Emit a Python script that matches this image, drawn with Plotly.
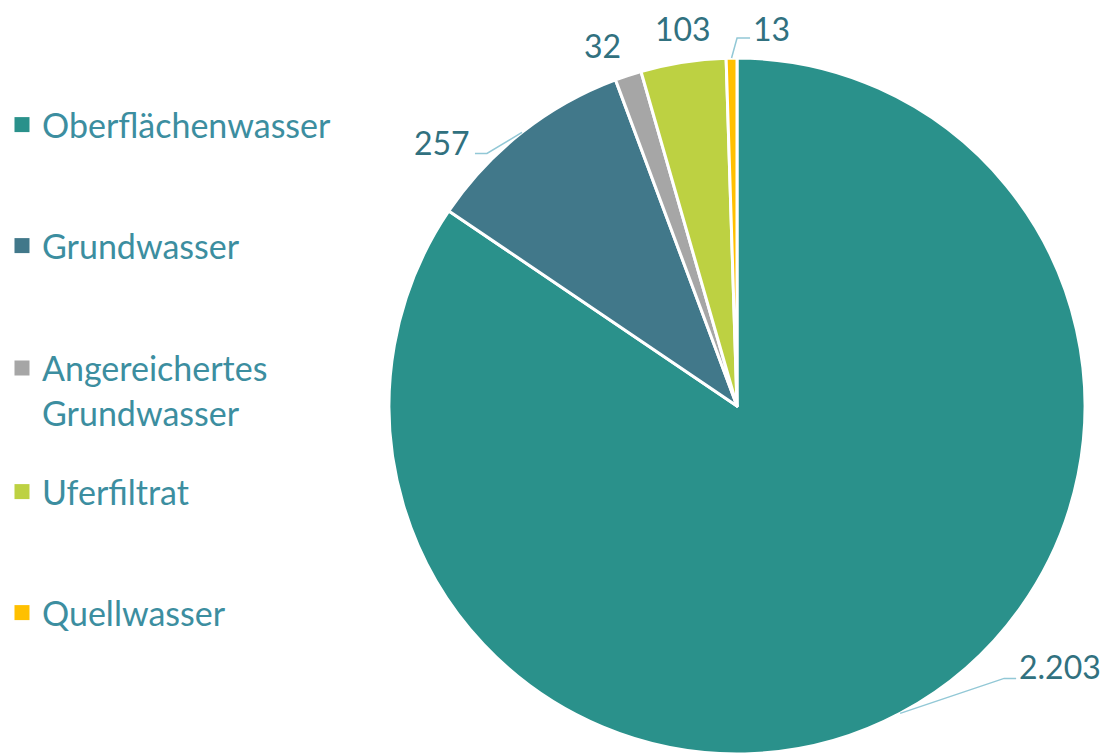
import math
import plotly.graph_objects as go

categories = ["Oberflächenwasser", "Grundwasser", "Angereichertes Grundwasser", "Uferfiltrat", "Quellwasser"]
legend_labels = ["Oberflächenwasser", "Grundwasser", "Angereichertes<br>Grundwasser", "Uferfiltrat", "Quellwasser"]
values = [2203, 257, 32, 103, 13]
value_texts = ["2.203", "257", "32", "103", "13"]
colors = ["#2A918B", "#41788A", "#A6A6A6", "#BDD142", "#FFC000"]

W, H = 1107, 754
FONT = "Lato"
LEGEND_COLOR = "#3C8EA0"
LABEL_COLOR = "#31717F"
LEADER_COLOR = "#92C8D6"

# pie geometry (pixels)
CX, CY, R = 737, 406, 348

# label placement relative to the slice's outer mid point (style only)
label_offsets = [(160, -47), (-80, 10), (-26, -30), (0, -34), (40, -30)]
leader_paths = [
    [(104, -35), (116, -35)],
    [(-35, 21), (-47, 21)],
    None,
    None,
    [(5.5, -20), (18.5, -20)],
]

fig = go.Figure()
fig.add_trace(go.Pie(
    labels=categories,
    values=values,
    sort=False,
    direction="clockwise",
    rotation=0,
    marker=dict(colors=colors, line=dict(color="white", width=3)),
    textinfo="none",
    showlegend=False,
    hoverinfo="label+value",
    domain=dict(x=[(CX - R) / W, (CX + R) / W], y=[(H - CY - R) / H, (H - CY + R) / H]),
))


def px2paper(x, y):
    return x / W, 1 - y / H


total = sum(values)
cum = 0
annotations = []
shapes = []
for i, v in enumerate(values):
    mid = (cum + v / 2) / total * 2 * math.pi
    cum += v
    ex = CX + R * math.sin(mid)
    ey = CY - R * math.cos(mid)
    dx, dy = label_offsets[i]
    tx, ty = px2paper(ex + dx, ey + dy)
    annotations.append(dict(
        x=tx, y=ty, xref="paper", yref="paper", text=value_texts[i],
        showarrow=False, xanchor="center", yanchor="middle",
        font=dict(family=FONT, size=32, color=LABEL_COLOR),
    ))
    if leader_paths[i]:
        pts = [(ex, ey)] + [(ex + ox, ey + oy) for ox, oy in leader_paths[i]]
        path = ""
        for j, (px_, py_) in enumerate(pts):
            qx, qy = px2paper(px_, py_)
            path += ("M" if j == 0 else "L") + f"{qx},{qy} "
        shapes.append(dict(type="path", path=path.strip(), xref="paper", yref="paper",
                           line=dict(color=LEADER_COLOR, width=1.5)))

legend_y = [125, 246, 390.5, 492, 613]
layout_legends = {}
for i, (lab, col) in enumerate(zip(legend_labels, colors)):
    key = "legend" if i == 0 else f"legend{i+1}"
    fig.add_trace(go.Scatter(
        x=[None], y=[None], mode="markers", name=lab,
        marker=dict(symbol="square", size=15, color=col),
        legend=key, hoverinfo="skip",
    ))
    layout_legends[key] = dict(
        x=0.0018, xanchor="left", xref="paper",
        y=1 - legend_y[i] / H, yanchor="middle", yref="container",
        font=dict(family=FONT, size=34, color=LEGEND_COLOR),
        bgcolor="rgba(0,0,0,0)", valign="top",
        itemsizing="trace",
    )

fig.update_layout(
    width=W, height=H,
    margin=dict(l=0, r=0, t=0, b=0, autoexpand=False),
    paper_bgcolor="white", plot_bgcolor="white",
    xaxis=dict(visible=False), yaxis=dict(visible=False),
    annotations=annotations, shapes=shapes,
    **layout_legends,
)

fig.write_html(
    "out.html",
    config={"displayModeBar": False},
    post_script="document.body.style.margin='0';document.body.style.overflow='hidden';",
)
